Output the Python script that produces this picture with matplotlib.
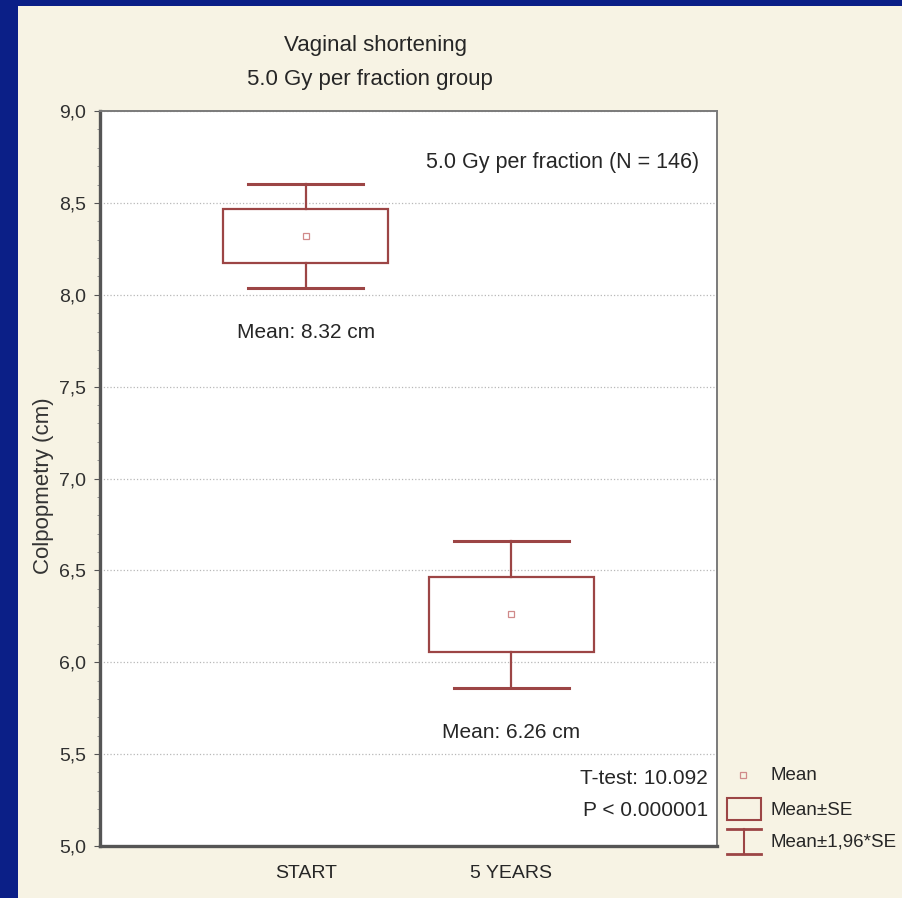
import matplotlib
matplotlib.use("Agg")
import matplotlib.pyplot as plt
from matplotlib.patches import Rectangle

plt.rcParams['font.family'] = ['Liberation Sans Narrow', 'Liberation Sans', 'DejaVu Sans']

groups = ['START', '5 YEARS']
means = [8.32, 6.26]
se = [0.145, 0.205]
mean_labels = ['Mean: 8.32 cm', 'Mean: 6.26 cm']
yticks = [5.0, 5.5, 6.0, 6.5, 7.0, 7.5, 8.0, 8.5, 9.0]
legend_labels = ['Mean', 'Mean±SE', 'Mean±1,96*SE']

red = '#9c4545'
txt = '#262626'
W, H = 902, 898

fig = plt.figure(figsize=(W / 100, H / 100), dpi=100)
fig.patch.set_facecolor('#0b1f87')
# beige panel inside the blue frame
panel = fig.add_axes([18 / W, 0, 1 - 18 / W, 1 - 6 / H])
panel.set_facecolor('#f7f3e4')
panel.set_xticks([])
panel.set_yticks([])
for s in panel.spines.values():
    s.set_visible(False)

ax = fig.add_axes([100 / W, 1 - 846 / H, 617 / W, 735 / H])
ax.set_facecolor('white')
ax.set_xlim(0, 3)
ax.set_ylim(5.0, 9.0)

x = [1, 2]
box_w = 0.8
cap_w = 0.56
for xi, m, s in zip(x, means, se):
    ax.add_patch(Rectangle((xi - box_w / 2, m - s), box_w, 2 * s,
                           fill=False, edgecolor=red, lw=1.6, zorder=3))
    lo, hi = m - 1.96 * s, m + 1.96 * s
    ax.plot([xi, xi], [m + s, hi], color=red, lw=1.6, zorder=3)
    ax.plot([xi, xi], [lo, m - s], color=red, lw=1.6, zorder=3)
    ax.plot([xi - cap_w / 2, xi + cap_w / 2], [hi, hi], color=red, lw=2.2, zorder=3)
    ax.plot([xi - cap_w / 2, xi + cap_w / 2], [lo, lo], color=red, lw=2.2, zorder=3)
ax.plot(x, means, 's', ms=5, mfc='none', mec='#d08a8a', mew=0.9, zorder=4)

for xi, m, s, lab in zip(x, means, se, mean_labels):
    ax.text(xi, m - 1.96 * s - 0.24, lab, ha='center', va='center', fontsize=15, color=txt)

ax.text(2.915, 8.72, '5.0 Gy per fraction (N = 146)', ha='right', va='center', fontsize=15.5, color=txt)
ax.text(2.955, 5.365, 'T-test: 10.092', ha='right', va='center', fontsize=15, color=txt)
ax.text(2.955, 5.195, 'P < 0.000001', ha='right', va='center', fontsize=15, color=txt)

ax.set_yticks(yticks)
ax.set_yticklabels([f'{v:.1f}'.replace('.', ',') for v in yticks], fontsize=14, color='#303030')
ax.set_yticks([v / 10 for v in range(50, 91)], minor=True)
ax.set_xticks(x)
ax.set_xticklabels(groups, fontsize=14, color=txt)
ax.tick_params(axis='x', length=0, pad=14)
ax.tick_params(axis='y', which='major', length=4, color='#555555', pad=6)
ax.tick_params(axis='y', which='minor', length=2, color='#888888')
ax.grid(axis='y', ls=':', color='#b8b8b8', lw=0.9)
for sp in ['left', 'bottom']:
    ax.spines[sp].set_linewidth(2.4)
    ax.spines[sp].set_color('#555555')
for sp in ['top', 'right']:
    ax.spines[sp].set_linewidth(1.4)
    ax.spines[sp].set_color('#7a7a7a')
ax.set_ylabel('Colpopmetry (cm)', fontsize=16, color='#333333')
ax.yaxis.set_label_coords(-46 / 617, 0.49)

fig.text(375 / W, 1 - 45 / H, 'Vaginal shortening', ha='center', va='center', fontsize=16, color=txt)
fig.text(370 / W, 1 - 80 / H, '5.0 Gy per fraction group', ha='center', va='center', fontsize=16, color=txt)

# legend, drawn in its own pixel-scaled axes to the right of the plot
leg = fig.add_axes([700 / W, 1 - 870 / H, 200 / W, 110 / H])
leg.set_xlim(700, 900)
leg.set_ylim(870, 760)
leg.axis('off')
leg.plot([743], [775], 's', ms=4, mfc='none', mec='#d08a8a', mew=0.9)
leg.add_patch(Rectangle((727, 798), 34, 22, fill=False, edgecolor=red, lw=1.5))
leg.plot([727, 761], [829, 829], color=red, lw=2.0)
leg.plot([727, 761], [854, 854], color=red, lw=2.0)
leg.plot([744, 744], [829, 854], color=red, lw=1.5)
for ly, lab in zip([775, 810, 842], legend_labels):
    leg.text(770, ly, lab, ha='left', va='center', fontsize=13.5, color=txt)

fig.savefig('out.png', dpi=100, facecolor=fig.get_facecolor())
